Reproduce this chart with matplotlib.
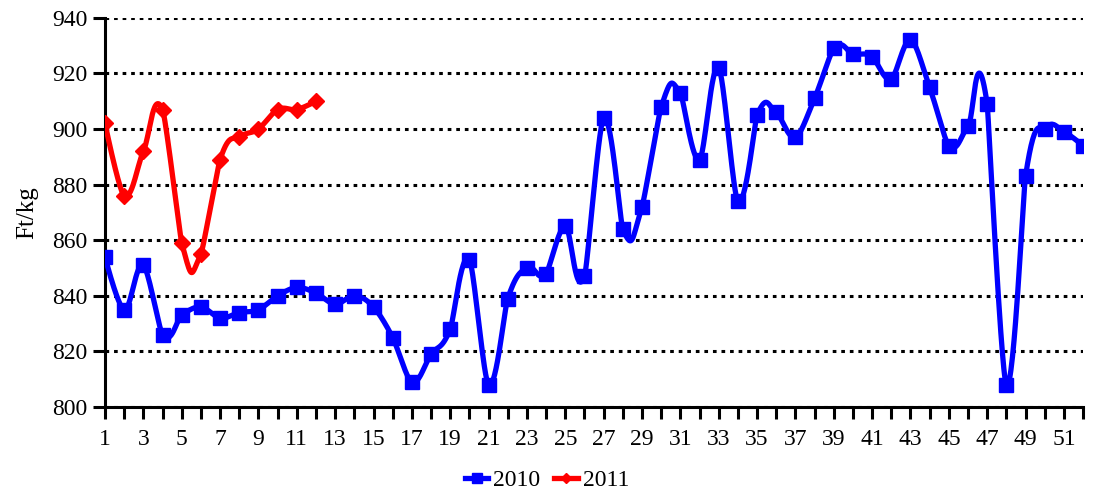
"""Weekly price chart, Ft/kg, 2010 vs 2011."""

import matplotlib

matplotlib.use("Agg")

import matplotlib.pyplot as plt
import numpy as np

weeks_2010 = list(range(1, 53))
price_2010 = [
    854, 835, 851, 826, 833, 836, 832, 834, 835, 840,
    843, 841, 837, 840, 836, 825, 809, 819, 828, 853,
    808, 839, 850, 848, 865, 847, 904, 864, 872, 908,
    913, 889, 922, 874, 905, 906, 897, 911, 929, 927,
    926, 918, 932, 915, 894, 901, 909, 808, 883, 900,
    899, 894,
]
weeks_2011 = list(range(1, 13))
price_2011 = [902, 876, 892, 907, 859, 855, 889, 897, 900, 907, 907, 910]

y_ticks = [800, 820, 840, 860, 880, 900, 920, 940]
x_labels = list(range(1, 53, 2))

# pixel size of one y unit relative to one x unit, used for segment lengths
Y_ASPECT = (389 / 140) / (978 / 51)


def smooth(xs, ys, steps=30):
    """Bezier-style smoothed line through the points, in the manner of Excel."""
    xs = np.asarray(xs, float)
    ys = np.asarray(ys, float)
    px = np.concatenate([[xs[0]], xs, [xs[-1]]])
    py = np.concatenate([[ys[0]], ys, [ys[-1]]])
    seg = np.hypot(np.diff(px), np.diff(py) * Y_ASPECT)
    t = np.linspace(0, 1, steps, endpoint=False)
    h00 = 2 * t ** 3 - 3 * t ** 2 + 1
    h10 = t ** 3 - 2 * t ** 2 + t
    h01 = -2 * t ** 3 + 3 * t ** 2
    h11 = t ** 3 - t ** 2
    out_x, out_y = [], []
    for i in range(1, len(px) - 2):
        d_prev, d_this, d_next = seg[i - 1], seg[i], seg[i + 1]
        f1 = d_prev / (d_prev + d_this) if d_prev + d_this else 0
        f2 = d_next / (d_this + d_next) if d_this + d_next else 0
        for p, out in ((px, out_x), (py, out_y)):
            m1 = f1 * (p[i + 1] - p[i - 1])
            m2 = f2 * (p[i + 2] - p[i])
            out.extend(h00 * p[i] + h10 * m1 + h01 * p[i + 1] + h11 * m2)
    out_x.append(xs[-1])
    out_y.append(ys[-1])
    return np.array(out_x), np.array(out_y)


plt.rcParams["font.family"] = ["Liberation Serif", "DejaVu Serif"]

fig = plt.figure(figsize=(10.94, 4.94), dpi=100)
ax = fig.add_axes([0.096, 0.176, 0.894, 0.788])

for xs, ys, color, marker, ms, label in (
    (weeks_2010, price_2010, "#0000ff", "s", 10.5, "2010"),
    (weeks_2011, price_2011, "#ff0000", "D", 8, "2011"),
):
    sx, sy = smooth(xs, ys)
    ax.plot(sx, sy, color=color, lw=3.8, solid_capstyle="round", zorder=3)
    ax.plot(xs, ys, ls="none", marker=marker, ms=ms, color=color, zorder=4)
    ax.plot([], [], color=color, lw=3.8, marker=marker, ms=ms * 0.7, label=label)

ax.set_xlim(1, 52)
ax.set_ylim(800, 940)
ax.set_yticks(y_ticks)
ax.set_xticks(weeks_2010)
ax.set_xticklabels([str(w) if w in x_labels else "" for w in weeks_2010])
ax.yaxis.grid(True, color="black", ls=(0, (1.2, 1.6)), lw=2.2)
ax.set_axisbelow(True)
for side in ("top", "right"):
    ax.spines[side].set_visible(False)
for side in ("left", "bottom"):
    ax.spines[side].set_linewidth(2.2)
ax.tick_params(axis="both", direction="out", length=8.5, width=2.2,
               labelsize=17, colors="black", pad=4)
ax.tick_params(axis="x", pad=7)
ax.set_ylabel("Ft/kg", fontsize=18, labelpad=10)

fig.legend(loc="center", bbox_to_anchor=(0.5, 0.028), ncol=2, frameon=False,
           fontsize=17, handlelength=1.0, handletextpad=0.2, columnspacing=0.6)

fig.savefig("out.png", dpi=100)
